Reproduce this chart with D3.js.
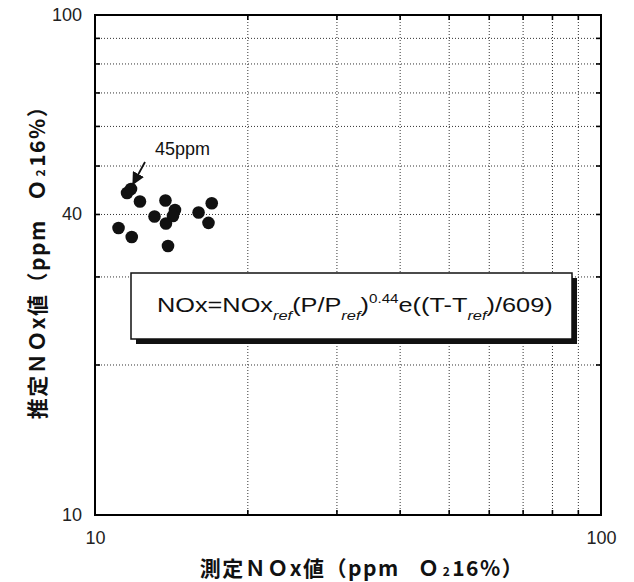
<!DOCTYPE html>
<html>
<head>
<meta charset="utf-8">
<script src="https://cdn.jsdelivr.net/npm/d3@7"></script>
<style>
  html, body { margin: 0; padding: 0; background: #fff; }
  svg { display: block; }
</style>
</head>
<body>
<svg id="chart" width="634" height="582"></svg>
<script>
// ---- data ----
const measuredNOx = [11.57, 11.78, 12.27, 11.13, 11.82, 13.11, 13.78, 14.39, 14.26, 13.81, 13.94, 16.02, 17.01, 16.76];
const estimatedNOx = [44.06, 44.87, 42.36, 37.50, 35.97, 39.54, 42.56, 40.74, 39.63, 38.28, 34.51, 40.27, 42.01, 38.40];
const xTickLabels = [10, 100];
const yTickLabels = [10, 40, 100];
const gridValues = [20, 30, 40, 50, 60, 70, 80, 90];
const annotationText = "45ppm";
const annotationIndex = 1;
const xTitle = "測定ＮＯx値（ppm\u2002\u00a0Ｏ";
const yTitle = "推定ＮＯx値（ppm\u2002\u00a0Ｏ";
const titleTail = "16%）";

// ---- layout ----
const svg = d3.select("#chart");
const m = { left: 95, top: 15 };
const W = 506, H = 500;
const g = svg.append("g").attr("transform", `translate(${m.left},${m.top})`);

const x = d3.scaleLog().domain([10, 100]).range([0, W]);
const y = d3.scaleLog().domain([10, 100]).range([H, 0]);

const numFont = "'Liberation Sans', Arial, Helvetica, sans-serif";
const cjkFont = "'Noto Sans CJK JP', 'Noto Sans CJK SC', sans-serif";

// grid lines (dotted)
g.append("g").attr("transform", `translate(0,${H})`)
  .call(d3.axisBottom(x).tickValues(gridValues).tickSize(-H).tickFormat(""))
  .call(s => s.select(".domain").remove())
  .call(s => s.selectAll("line").attr("stroke", "#333").attr("stroke-width", 1).attr("stroke-dasharray", "1,2"));
g.append("g")
  .call(d3.axisLeft(y).tickValues(gridValues).tickSize(-W).tickFormat(""))
  .call(s => s.select(".domain").remove())
  .call(s => s.selectAll("line").attr("stroke", "#333").attr("stroke-width", 1).attr("stroke-dasharray", "1,2"));

// inward tick marks on all four sides
const tickStyle = s => { s.select(".domain").remove(); s.selectAll("line").attr("stroke", "#000").attr("stroke-width", 1.6); };
g.append("g").attr("transform", `translate(0,${H})`).call(d3.axisBottom(x).tickValues(gridValues).tickSize(-5).tickFormat("")).call(tickStyle);
g.append("g").call(d3.axisTop(x).tickValues(gridValues).tickSize(-5).tickFormat("")).call(tickStyle);
g.append("g").call(d3.axisLeft(y).tickValues(gridValues).tickSize(-5).tickFormat("")).call(tickStyle);
g.append("g").attr("transform", `translate(${W},0)`).call(d3.axisRight(y).tickValues(gridValues).tickSize(-5).tickFormat("")).call(tickStyle);

// frame
g.append("rect").attr("x", 0).attr("y", 0).attr("width", W).attr("height", H)
  .attr("fill", "none").attr("stroke", "#000").attr("stroke-width", 2);

// tick labels
g.append("g").attr("transform", `translate(0,${H})`)
  .call(d3.axisBottom(x).tickValues(xTickLabels).tickSize(0).tickPadding(16).tickFormat(d3.format("d")))
  .call(s => s.select(".domain").remove())
  .call(s => s.selectAll("text").attr("font-family", numFont).attr("font-size", 18).attr("fill", "#222"));
g.append("g")
  .call(d3.axisLeft(y).tickValues(yTickLabels).tickSize(0).tickPadding(13).tickFormat(d3.format("d")))
  .call(s => s.select(".domain").remove())
  .call(s => s.selectAll("text").attr("font-family", numFont).attr("font-size", 18).attr("fill", "#222"));

// axis titles
function title(sel, main) {
  sel.append("tspan").text(main);
  sel.append("tspan").text("2").attr("font-size", 12).attr("font-weight", "bold").attr("dx", 2);
  sel.append("tspan").text(titleTail).attr("dx", 1);
}
svg.append("text").attr("x", 362).attr("y", 576).attr("text-anchor", "middle")
  .attr("font-family", cjkFont).attr("font-size", 21).attr("font-weight", "bold").attr("fill", "#111")
  .attr("letter-spacing", 1.5)
  .call(s => title(s, xTitle));
svg.append("text").attr("transform", "translate(45,257) rotate(-90)").attr("text-anchor", "middle")
  .attr("font-family", cjkFont).attr("font-size", 21).attr("font-weight", "bold").attr("fill", "#111")
  .attr("letter-spacing", 1.5)
  .call(s => title(s, yTitle));

// points
g.selectAll("circle.pt").data(measuredNOx).join("circle").attr("class", "pt")
  .attr("cx", (d) => x(d)).attr("cy", (d, i) => y(estimatedNOx[i]))
  .attr("r", 6.3).attr("fill", "#111");

// annotation with arrow
svg.append("defs").append("marker").attr("id", "ah").attr("viewBox", "0 0 10 10")
  .attr("refX", 9).attr("refY", 5).attr("markerWidth", 7).attr("markerHeight", 7).attr("orient", "auto")
  .append("path").attr("d", "M0,0 L10,5 L0,10 z").attr("fill", "#111");
const ax = x(measuredNOx[annotationIndex]), ay = y(estimatedNOx[annotationIndex]);
g.append("line").attr("x1", ax + 14).attr("y1", ay - 27).attr("x2", ax + 2).attr("y2", ay - 5)
  .attr("stroke", "#111").attr("stroke-width", 1.8).attr("marker-end", "url(#ah)");
g.append("text").attr("x", ax + 24).attr("y", ay - 34).text(annotationText)
  .attr("font-family", numFont).attr("font-size", 18).attr("fill", "#111");

// formula box
const bx = 131, by = 273, bw = 441, bh = 66;
svg.append("rect").attr("x", bx + 5).attr("y", by + 5).attr("width", bw).attr("height", bh).attr("fill", "#111");
svg.append("rect").attr("x", bx).attr("y", by).attr("width", bw).attr("height", bh)
  .attr("fill", "#fff").attr("stroke", "#111").attr("stroke-width", 1.5);
const ft = svg.append("text").attr("x", 157).attr("y", 312)
  .attr("font-family", numFont).attr("font-size", 20).attr("fill", "#111");
const parts = [
  ["NOx=NOx", 0, 20, "normal"], ["ref", 8, 13, "italic"],
  ["(P/P", -8, 20, "normal"], ["ref", 8, 13, "italic"],
  [")", -8, 20, "normal"], ["0.44", -9, 12, "normal"],
  ["e((T-T", 9, 20, "normal"], ["ref", 8, 13, "italic"],
  [")/609)", -8, 20, "normal"]
];
parts.forEach(([t, dy, fs, st]) => {
  ft.append("tspan").text(t).attr("dy", dy).attr("font-size", fs).attr("font-style", st);
});
// fit formula to the measured width
const bb = ft.node().getBBox();
const target = 396;
ft.attr("transform", `translate(157,0) scale(${target / bb.width},1) translate(-157,0)`);
</script>
</body>
</html>
